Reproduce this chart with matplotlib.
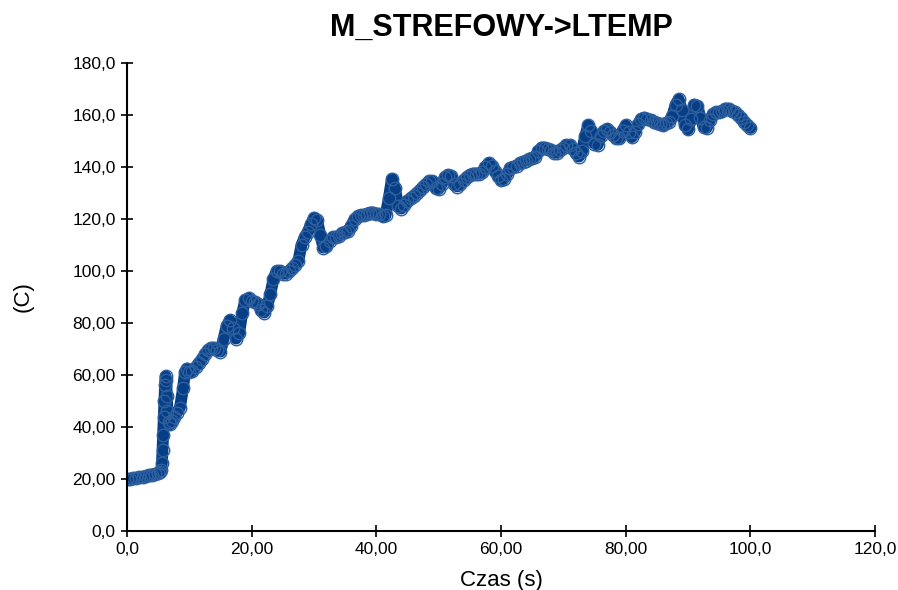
import numpy as np
import matplotlib.pyplot as plt

plt.rcParams['font.family'] = ['Liberation Sans', 'DejaVu Sans']

# time (s) and temperature (C)
czas = [0.0, 0.5, 1.0, 1.5, 2.0, 2.5, 3.0, 3.5, 4.0, 4.5, 5.0, 5.3, 5.5,
        5.6, 5.7, 5.8, 5.9, 6.0, 6.1, 6.2, 6.3, 6.4, 6.5, 6.7, 6.9, 7.2, 7.5,
        8.0, 8.5, 9.0, 9.3, 9.6, 10.0, 10.5, 11.0, 11.5, 12.0, 12.5, 13.0,
        13.5, 14.0, 14.5, 15.0, 15.5, 16.0, 16.5, 17.0, 17.5, 18.0, 18.5,
        19.0, 19.5, 20.0, 20.5, 21.0, 21.5, 22.0, 22.5, 23.0, 23.5, 24.0,
        24.5, 25.0, 25.5, 26.0, 26.5, 27.0, 27.5, 28.0, 28.5, 29.0, 29.5,
        30.0, 30.5, 31.0, 31.5, 32.0, 32.5, 33.0, 33.5, 34.0, 34.5, 35.0,
        35.5, 36.0, 36.5, 37.0, 37.5, 38.0, 38.5, 39.0, 39.5, 40.0, 40.5,
        41.0, 41.5, 42.0, 42.5, 43.0, 43.5, 44.0, 44.5, 45.0, 45.5, 46.0,
        46.5, 47.0, 47.5, 48.0, 48.5, 49.0, 49.5, 50.0, 50.5, 51.0, 51.5,
        52.0, 52.5, 53.0, 53.5, 54.0, 54.5, 55.0, 55.5, 56.0, 56.5, 57.0,
        57.5, 58.0, 58.5, 59.0, 59.5, 60.0, 60.5, 61.0, 61.5, 62.0, 62.5,
        63.0, 63.5, 64.0, 64.5, 65.0, 65.5, 66.0, 66.5, 67.0, 67.5, 68.0,
        68.5, 69.0, 69.5, 70.0, 70.5, 71.0, 71.5, 72.0, 72.5, 73.0, 73.5,
        74.0, 74.5, 75.0, 75.5, 76.0, 76.5, 77.0, 77.5, 78.0, 78.5, 79.0,
        79.5, 80.0, 80.5, 81.0, 81.5, 82.0, 82.5, 83.0, 83.5, 84.0, 84.5,
        85.0, 85.5, 86.0, 86.5, 87.0, 87.5, 88.0, 88.5, 89.0, 89.5, 90.0,
        90.5, 91.0, 91.5, 92.0, 92.5, 93.0, 93.5, 94.0, 94.5, 95.0, 95.5,
        96.0, 96.5, 97.0, 97.5, 98.0, 98.5, 99.0, 99.5, 100.0]
temp = [20.0, 20.1, 20.2, 20.4, 20.6, 20.9, 21.1, 21.4, 21.7, 22.0, 22.4, 22.8, 23.5,
        26.0, 31.0, 37.0, 44.0, 50.0, 56.0, 59.5, 58.0, 52.0, 46.0, 42.0, 41.0, 42.5, 44.0,
        45.5, 47.5, 55.0, 61.0, 62.5, 61.0, 61.5, 63.0, 64.5, 66.0, 68.0, 69.5,
        70.5, 70.5, 69.5, 69.0, 74.0, 79.0, 81.0, 78.0, 74.0, 76.0, 84.0,
        89.0, 89.5, 88.5, 88.0, 87.5, 85.0, 84.0, 86.5, 91.0, 97.0, 100.0,
        100.0, 99.0, 99.0, 100.0, 101.0, 102.5, 104.0, 110.0, 113.0, 115.0, 118.0,
        120.5, 119.5, 114.0, 109.0, 109.5, 111.5, 113.0, 113.0, 113.5, 114.5, 115.0,
        115.5, 117.5, 120.0, 121.0, 121.5, 121.5, 122.0, 122.5, 122.5, 122.0, 122.0,
        121.0, 121.5, 128.0, 135.5, 132.0, 125.0, 124.0, 125.5, 127.0, 128.0, 129.0,
        130.0, 131.0, 132.5, 133.5, 134.5, 134.5, 132.0, 131.5, 133.5, 136.0, 137.0,
        136.5, 133.5, 132.5, 133.5, 135.0, 136.0, 137.0, 137.5, 137.5, 137.5, 138.0,
        140.0, 141.5, 140.5, 138.5, 136.5, 135.0, 135.5, 137.5, 139.5, 140.0, 140.5,
        141.5, 142.0, 142.5, 143.0, 143.5, 144.0, 146.0, 147.5, 147.5, 147.0, 146.5,
        145.5, 145.5, 146.5, 147.5, 148.5, 148.5, 147.0, 145.5, 144.0, 146.0, 152.0,
        156.0, 154.0, 149.0, 148.5, 152.0, 154.0, 154.5, 153.5, 152.5, 151.0, 151.0,
        154.0, 156.0, 153.5, 151.5, 153.5, 156.5, 158.5, 159.0, 158.5, 158.0, 157.5,
        157.0, 156.5, 156.0, 157.0, 157.5, 159.5, 164.0, 166.0, 162.0, 156.0, 154.5,
        158.5, 164.0, 163.5, 159.0, 155.5, 155.0, 158.0, 160.5, 161.0, 161.0, 161.5,
        162.5, 162.5, 161.5, 161.0, 160.0, 159.0, 157.5, 156.0, 155.0]

xticks = [0, 20, 40, 60, 80, 100, 120]
xlabels = ['0,0', '20,00', '40,00', '60,00', '80,00', '100,0', '120,0']
yticks = [0, 20, 40, 60, 80, 100, 120, 140, 160, 180]
ylabels = ['0,0', '20,00', '40,00', '60,00', '80,00', '100,0', '120,0',
           '140,0', '160,0', '180,0']

kolor = '#073f86'

fig = plt.figure(figsize=(8.98, 5.90), dpi=100)
ax = fig.add_axes([0.1414, 0.1, 0.833, 0.7932])

# thick band under the open circles, like the dense samples in the original
ax.plot(czas, temp, color=kolor, lw=8.5, solid_capstyle='round',
        solid_joinstyle='round')
ax.plot(czas, temp, color=kolor, lw=1.5, marker='o', ms=9,
        mfc='none', mec='#2d5f9e', mew=1.0)

ax.set_xlim(0, 120)
ax.set_ylim(0, 180)
ax.set_xticks(xticks)
ax.set_xticklabels(xlabels)
ax.set_yticks(yticks)
ax.set_yticklabels(ylabels)
ax.tick_params(direction='inout', length=9, width=1.2, labelsize=12.5)
ax.spines['top'].set_visible(False)
ax.spines['right'].set_visible(False)
ax.spines['left'].set_linewidth(1.5)
ax.spines['bottom'].set_linewidth(1.5)

ax.set_xlabel('Czas (s)', fontsize=16, labelpad=9)
ax.set_ylabel('(C)', fontsize=16, labelpad=28)
fig.text(0.558, 0.952, 'M_STREFOWY->LTEMP', fontsize=22, fontweight='bold',
         ha='center', va='center')

fig.savefig('out.png', dpi=100)
